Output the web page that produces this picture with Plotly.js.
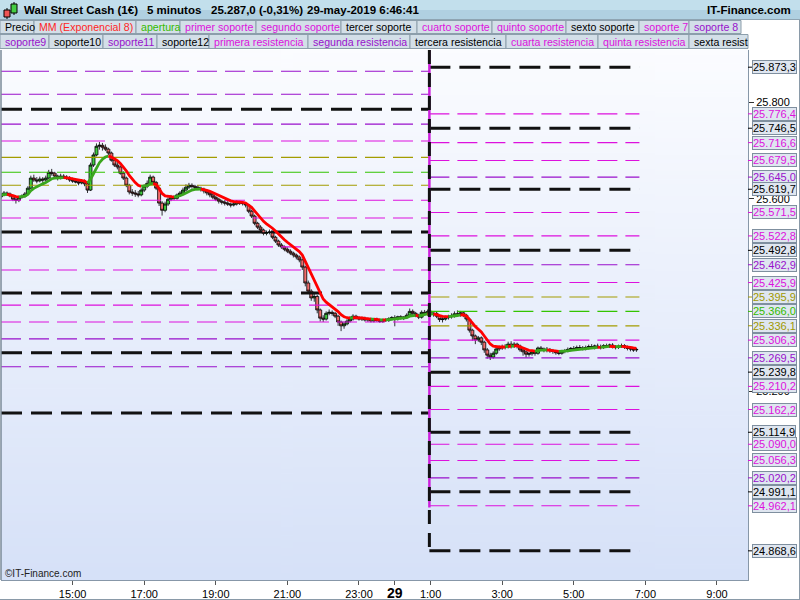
<!DOCTYPE html>
<html><head><meta charset="utf-8">
<script src="https://cdn.plot.ly/plotly-3.0.1.min.js"></script>
<style>html,body{margin:0;padding:0;background:#fff}#chart{width:800px;height:600px}</style>
</head><body><div id="chart"></div>
<script>
// ---------------- DATA ----------------
const barStart = '2019-05-28 13:00';
const barMinutes = 5;
const O = [
25604,25608,25612,25610,25606,25599,25597,25603,25605,25610,
25622,25643,25639,25637,25641,25639,25643,25655,25653,25647,
25643,25647,25645,25643,25639,25637,25635,25633,25637,25631,
25618,25670,25691,25709,25711,25707,25703,25695,25680,25670,
25666,25653,25643,25628,25614,25612,25610,25608,25618,25626,
25632,25645,25634,25622,25591,25576,25589,25599,25603,25601,
25608,25612,25618,25624,25628,25626,25624,25622,25620,25616,
25612,25608,25603,25599,25595,25593,25591,25589,25587,25589,
25593,25591,25590,25587,25574,25564,25549,25541,25535,25528,
25530,25531,25520,25512,25504,25500,25495,25491,25487,25483,
25479,25473,25458,25425,25408,25394,25397,25369,25352,25350,
25362,25364,25362,25356,25344,25336,25340,25346,25350,25356,
25353,25350,25352,25348,25350,25346,25350,25347,25345,25349,
25347,25351,25353,25350,25355,25352,25354,25358,25366,25362,
25358,25354,25364,25362,25366,25360,25362,25356,25349,25350,
25353,25355,25357,25361,25360,25363,25358,25350,25327,25315,
25307,25311,25302,25286,25275,25271,25279,25288,25290,25292,
25292,25298,25293,25298,25294,25286,25282,25277,25278,25282,
25279,25290,25288,25286,25287,25284,25283,25280,25279,25283,
25284,25287,25289,25288,25291,25290,25289,25291,25293,25292,
25294,25292,25291,25295,25294,25296,25292,25291,25294,25295,
25292,25289,25288,25286];
const H = [
25612,25616,25615,25613,25608,25602,25606,25609,25614,25626,
25648,25650,25645,25646,25645,25648,25660,25662,25656,25650,
25652,25651,25649,25647,25644,25642,25640,25641,25640,25634,
25675,25696,25715,25718,25716,25713,25706,25698,25684,25676,
25669,25657,25646,25631,25620,25618,25616,25622,25630,25638,
25650,25648,25637,25625,25595,25594,25603,25608,25607,25611,
25616,25623,25630,25633,25632,25629,25628,25625,25623,25619,
25615,25611,25606,25602,25598,25597,25595,25592,25593,25597,
25596,25595,25593,25589,25577,25567,25552,25545,25538,25534,
25536,25533,25523,25515,25508,25503,25499,25495,25490,25486,
25482,25476,25461,25430,25412,25405,25400,25372,25358,25366,
25370,25368,25365,25359,25347,25345,25350,25356,25360,25359,
25356,25355,25355,25353,25353,25352,25353,25351,25351,25352,
25354,25356,25358,25357,25358,25356,25362,25372,25370,25365,
25361,25368,25369,25370,25369,25364,25365,25359,25354,25357,
25359,25362,25366,25368,25367,25366,25361,25353,25330,25318,
25315,25314,25305,25290,25280,25283,25292,25295,25297,25298,
25303,25304,25302,25301,25297,25289,25285,25282,25286,25285,
25293,25294,25291,25292,25290,25288,25286,25284,25286,25288,
25291,25292,25294,25295,25296,25294,25295,25297,25298,25297,
25299,25297,25298,25299,25299,25300,25296,25297,25299,25298,
25295,25293,25292,25290];
const L = [
25600,25605,25606,25603,25595,25590,25593,25600,25602,25608,
25620,25635,25632,25634,25633,25636,25641,25648,25643,25638,
25640,25641,25639,25635,25633,25632,25628,25630,25626,25612,
25616,25666,25688,25702,25700,25699,25690,25677,25666,25661,
25650,25639,25624,25609,25606,25604,25603,25605,25614,25622,
25629,25630,25618,25585,25565,25572,25585,25595,25597,25598,
25604,25609,25615,25620,25621,25619,25618,25615,25611,25607,
25603,25599,25595,25590,25588,25586,25585,25582,25584,25586,
25587,25586,25582,25570,25560,25545,25537,25531,25524,25524,
25526,25516,25508,25500,25496,25491,25487,25483,25478,25474,
25468,25452,25418,25402,25388,25386,25362,25345,25344,25347,
25358,25357,25352,25336,25325,25330,25337,25343,25347,25349,
25347,25346,25345,25344,25343,25343,25344,25342,25342,25344,
25344,25347,25335,25347,25349,25348,25351,25355,25358,25354,
25350,25351,25358,25357,25356,25355,25352,25344,25343,25347,
25349,25351,25353,25356,25355,25354,25345,25322,25305,25298,
25303,25296,25280,25268,25265,25268,25276,25284,25286,25287,
25289,25289,25290,25289,25282,25274,25270,25272,25274,25274,
25276,25284,25281,25281,25280,25278,25276,25275,25276,25279,
25281,25283,25284,25285,25286,25285,25285,25287,25288,25287,
25289,25287,25288,25290,25290,25289,25287,25288,25290,25288,
25285,25283,25282,25282];
const C = [
25608,25612,25610,25606,25599,25597,25603,25605,25610,25622,
25643,25639,25637,25641,25639,25643,25655,25653,25647,25643,
25647,25645,25643,25639,25637,25635,25633,25637,25631,25618,
25670,25691,25709,25711,25707,25703,25695,25680,25670,25666,
25653,25643,25628,25614,25612,25610,25608,25618,25626,25632,
25645,25634,25622,25591,25576,25589,25599,25603,25601,25608,
25612,25618,25624,25628,25626,25624,25622,25620,25616,25612,
25608,25603,25599,25595,25593,25591,25589,25587,25589,25593,
25591,25590,25587,25574,25564,25549,25541,25535,25528,25530,
25531,25520,25512,25504,25500,25495,25491,25487,25483,25479,
25473,25458,25425,25408,25394,25397,25369,25352,25350,25362,
25364,25362,25356,25344,25336,25340,25346,25350,25356,25353,
25350,25352,25348,25350,25346,25350,25347,25345,25349,25347,
25351,25353,25350,25355,25352,25354,25358,25366,25362,25358,
25354,25364,25362,25366,25360,25362,25356,25349,25350,25353,
25355,25357,25361,25360,25363,25358,25350,25327,25315,25307,
25311,25302,25286,25275,25271,25279,25288,25290,25292,25292,
25298,25293,25298,25294,25286,25282,25277,25278,25282,25279,
25290,25288,25286,25287,25284,25283,25280,25279,25283,25284,
25287,25289,25288,25291,25290,25289,25291,25293,25292,25294,
25292,25291,25295,25294,25296,25292,25291,25294,25295,25292,
25289,25288,25286,25287];
const emaPeriod = 8;

// previous session levels (drawn 13:00 -> 1:00)
const prevLevels = [25865,25817,25786,25755,25720,25686,25655,25628,25597,25560,25531,25500,25452,25404,25379,25344,25309,25280,25251,25155];
const prevKinds  = ['p','p','k','p','m','o','g','o','m','m','k','m','m','k','m','m','p','k','p','k'];
// current session levels (drawn 1:00 -> 6:50), labelled on the axis
const newLevels = [25873.3,25776.4,25746.5,25716.6,25679.5,25645.0,25619.7,25571.5,25522.8,25492.8,25462.9,25425.9,25395.9,25366.0,25336.1,25306.3,25269.5,25239.8,25210.2,25162.2,25114.9,25090.0,25056.3,25020.2,24991.1,24962.1,24868.6];
const newKinds  = ['k','m','k','m','m','p','k','m','m','k','p','m','o','g','o','m','p','k','m','m','k','m','m','p','k','m','k'];
const prevStart = '2019-05-28 13:00';
const sessionBreak = '2019-05-29 00:58';
const newEnd = '2019-05-29 06:50';

const yTicks = [25200,25600,25800];
const tickTimes = ['2019-05-28 15:00','2019-05-28 17:00','2019-05-28 19:00','2019-05-28 21:00','2019-05-28 23:00','2019-05-29 00:00','2019-05-29 01:00','2019-05-29 03:00','2019-05-29 05:00','2019-05-29 07:00','2019-05-29 09:00'];
const tickLabels = ['15:00','17:00','19:00','21:00','23:00','29','1:00','3:00','5:00','7:00','9:00'];

const titleParts = ['Wall Street Cash (1€)','5 minutos','25.287,0 (-0,31%)','29-may-2019 6:46:41'];
const siteName = 'IT-Finance.com';
const legend1Names = ['Precio','MM (Exponencial 8)','apertura','primer soporte','segundo soporte','tercer soporte','cuarto soporte','quinto soporte','sexto soporte','soporte 7','soporte 8'];
const legend1Kinds = ['k','r','g','m','m','k','m','m','k','m','p'];
const legend2Names = ['soporte9','soporte10','soporte11','soporte12','primera resistencia','segunda resistencia','tercera resistencia','cuarta resistencia','quinta resistencia','sexta resist'];
const legend2Kinds = ['p','k','p','k','m','p','k','m','m','k'];

// ---------------- STYLE ----------------
const FONT = 'Liberation Sans, Arial, sans-serif';
const lineStyle = {
  k:{color:'#111111', width:3, dash:'21px,9px'},
  m:{color:'#dd11dd', width:1.1, dash:'20px,8px'},
  p:{color:'#9911cc', width:1.1, dash:'20px,8px'},
  o:{color:'#a39c00', width:1.2, dash:'20px,8px'},
  g:{color:'#33c400', width:1.2, dash:'20px,8px'}
};
const textColor = {k:'#000000', m:'#dd11dd', p:'#9911cc', o:'#a09800', g:'#33bb00', r:'#ff1f1f'};
const legendEdges1 = [0,34,136,180,256,341,417,492,566,639,689,741];
const legendEdges2 = [0,49,103,157,209,308,410,506,598,689,748];
const yRange = [24808, 25909];
const xRange = ['2019-05-28 13:00','2019-05-29 09:52'];

const W=800, HT=600, M={l:1,r:52,t:50,b:20};
const PW=W-M.l-M.r, PH=HT-M.t-M.b;
const px = x => (x - M.l)/PW;
const py = y => (HT - M.b - y)/PH;

// ---------------- BUILD ----------------
const t0 = new Date(barStart.replace(' ','T')+':00Z').getTime();
const T = C.map((_,i)=> new Date(t0 + i*barMinutes*60000).toISOString().slice(0,16).replace('T',' '));

const traces = [];
prevLevels.forEach((v,i)=>{
  const s=lineStyle[prevKinds[i]];
  traces.push({type:'scatter',mode:'lines',x:[prevStart,sessionBreak],y:[v,v],line:{color:s.color,width:s.width,dash:s.dash},hoverinfo:'skip',showlegend:false});
});
newLevels.forEach((v,i)=>{
  const s=lineStyle[newKinds[i]];
  traces.push({type:'scatter',mode:'lines',x:[sessionBreak,newEnd],y:[v,v],line:{color:s.color,width:s.width,dash:s.dash},hoverinfo:'skip',showlegend:false});
});
traces.push({type:'candlestick',x:T,open:O,high:H,low:L,close:C,
  increasing:{line:{color:'#000000',width:0.8},fillcolor:'#3fcc3f'},
  decreasing:{line:{color:'#000000',width:0.8},fillcolor:'#f06c6c'},
  whiskerwidth:0,hoverinfo:'skip',showlegend:false});
// EMA 8
const k = 2/(emaPeriod+1);
const ema=[C[0]];
for(let i=1;i<C.length;i++) ema.push(ema[i-1]+k*(C[i]-ema[i-1]));
const dir = i => ema[i]>=ema[i-1] ? 'up':'down';
const segs=[]; let cur={d:dir(1), idx:[0,1]};
for(let i=2;i<ema.length;i++){ const d=dir(i); if(d===cur.d) cur.idx.push(i); else {segs.push(cur); cur={d:d, idx:[i-1,i]};} }
segs.push(cur);
segs.forEach(s=>{
  traces.push({type:'scatter',mode:'lines',x:s.idx.map(i=>T[i]),y:s.idx.map(i=>ema[i]),
    line:{color:s.d==='up'?'#3aa61e':'#ff0000',width:2.8},hoverinfo:'skip',showlegend:false});
});
// session change connector
traces.push({type:'scatter',mode:'lines',x:[sessionBreak,sessionBreak],y:[yRange[1],Math.min(...newLevels)+90],line:{color:'#cc22dd',width:2.5},hoverinfo:'skip',showlegend:false});
traces.push({type:'scatter',mode:'lines',x:[sessionBreak,sessionBreak],y:[yRange[1],Math.min(...newLevels)],line:{color:'#111111',width:3,dash:'14px,9px'},hoverinfo:'skip',showlegend:false});

// shapes & annotations
const shapes=[], ann=[];
const rect=(x0,y0,x1,y1,fill,lc,lw)=>shapes.push({type:'rect',xref:'paper',yref:'paper',x0:px(x0),x1:px(x1),y0:py(y1),y1:py(y0),fillcolor:fill,line:{color:lc||fill,width:lw===undefined?0:lw},layer:'above'});
const txt=(x,y,text,color,size,anchor,bold)=>ann.push({xref:'paper',yref:'paper',x:px(x),y:py(y),text:bold?'<b>'+text+'</b>':text,showarrow:false,xanchor:anchor||'left',yanchor:'middle',font:{family:FONT,size:size||11,color:color||'#000'}});

// title bar
rect(0,0,800,10,'#c2dfec');
rect(0,10,800,19,'#b0d0e1');
shapes.push({type:'line',xref:'paper',yref:'paper',x0:px(0),x1:px(800),y0:py(19.5),y1:py(19.5),line:{color:'#8fa4b2',width:1}});
shapes.push({type:'line',xref:'paper',yref:'paper',x0:px(7),x1:px(7),y0:py(19),y1:py(8),line:{color:'#000',width:1}});
rect(4,10,10,17,'#ee5555','#000',1);
shapes.push({type:'line',xref:'paper',yref:'paper',x0:px(14),x1:px(14),y0:py(15),y1:py(2),line:{color:'#000',width:1}});
rect(11,4,17,13,'#44cc44','#000',1);
const titleX=[22,145,209,305];
titleParts.forEach((s,i)=>txt(titleX[i],10,s,'#000',11.5,'left',true));
txt(793,10,siteName,'#000',11.5,'right',true);

// legend boxes
const legendRow=(names,kinds,edges,y0,y1)=>{
  names.forEach((n,i)=>{
    rect(edges[i],y0,edges[i+1],y1,'#d3dfe8','#8c9eab',1);
    txt(edges[i]+2.5,(y0+y1)/2+0.5,n,textColor[kinds[i]],10.6);
  });
};
legendRow(legend1Names,legend1Kinds,legendEdges1,20.5,33.5);
legendRow(legend2Names,legend2Kinds,legendEdges2,34.5,48.5);

// level labels on right axis
const fmt=v=>{const [a,b]=v.toFixed(1).split('.');return a.slice(0,-3)+'.'+a.slice(-3)+','+b;};
newLevels.forEach((v,i)=>{
  const kd=newKinds[i];
  shapes.push({type:'line',xref:'paper',yref:'y',x0:1,x1:1+5/PW,y0:v,y1:v,line:{color:textColor[kd],width:1}});
  ann.push({xref:'paper',yref:'y',x:1,xshift:4,y:v,text:fmt(v),showarrow:false,xanchor:'left',yanchor:'middle',
    font:{family:FONT,size:11,color:textColor[kd]},bgcolor:'#dfe6f0',bordercolor:'#7f8f9f',borderwidth:1,borderpad:0});
});
shapes.push({type:'line',xref:'paper',yref:'paper',x0:0,x1:0,y0:0,y1:1,line:{color:'#7a8a98',width:1.5}});
shapes.push({type:'line',xref:'paper',yref:'paper',x0:px(799.5),x1:px(799.5),y0:py(600),y1:py(20),line:{color:'#8a9aa8',width:1}});
shapes.push({type:'line',xref:'paper',yref:'paper',x0:px(0),x1:px(800),y0:py(599.5),y1:py(599.5),line:{color:'#8a9aa8',width:1}});
txt(3,573,'©IT-Finance.com','#222',10);

// gradient background
const cv=document.createElement('canvas'); cv.width=4; cv.height=256;
const cx=cv.getContext('2d'); const g=cx.createLinearGradient(0,0,0,256);
g.addColorStop(0,'#fbfcff'); g.addColorStop(1,'#d6e1f8'); cx.fillStyle=g; cx.fillRect(0,0,4,256);
const bg=cv.toDataURL();

const layout={
  width:W,height:HT,margin:M,paper_bgcolor:'#ffffff',plot_bgcolor:'rgba(0,0,0,0)',
  separators:',.',showlegend:false,dragmode:false,boxgap:0,boxgroupgap:0,
  images:[{source:bg,xref:'paper',yref:'paper',x:0,y:1,sizex:1,sizey:1,sizing:'stretch',xanchor:'left',yanchor:'top',layer:'below'}],
  xaxis:{type:'date',range:xRange,rangeslider:{visible:false},tickvals:tickTimes,
    ticktext:tickLabels.map(s=>s==='29'?'<b><span style="font-size:14px">29</span></b>':s),
    ticks:'outside',ticklen:4,tickcolor:'#555',showgrid:false,zeroline:false,showline:true,linecolor:'#8797a8',
    tickfont:{family:FONT,size:11,color:'#000'},fixedrange:true},
  yaxis:{side:'right',range:yRange,tickvals:yTicks,tickformat:',d',ticks:'outside',ticklen:5,tickcolor:'#333',
    showgrid:false,zeroline:false,showline:true,linecolor:'#8797a8',tickfont:{family:FONT,size:11,color:'#000'},fixedrange:true},
  shapes:shapes,annotations:ann
};
Plotly.newPlot('chart',traces,layout,{displayModeBar:false,staticPlot:true});
</script></body></html>
